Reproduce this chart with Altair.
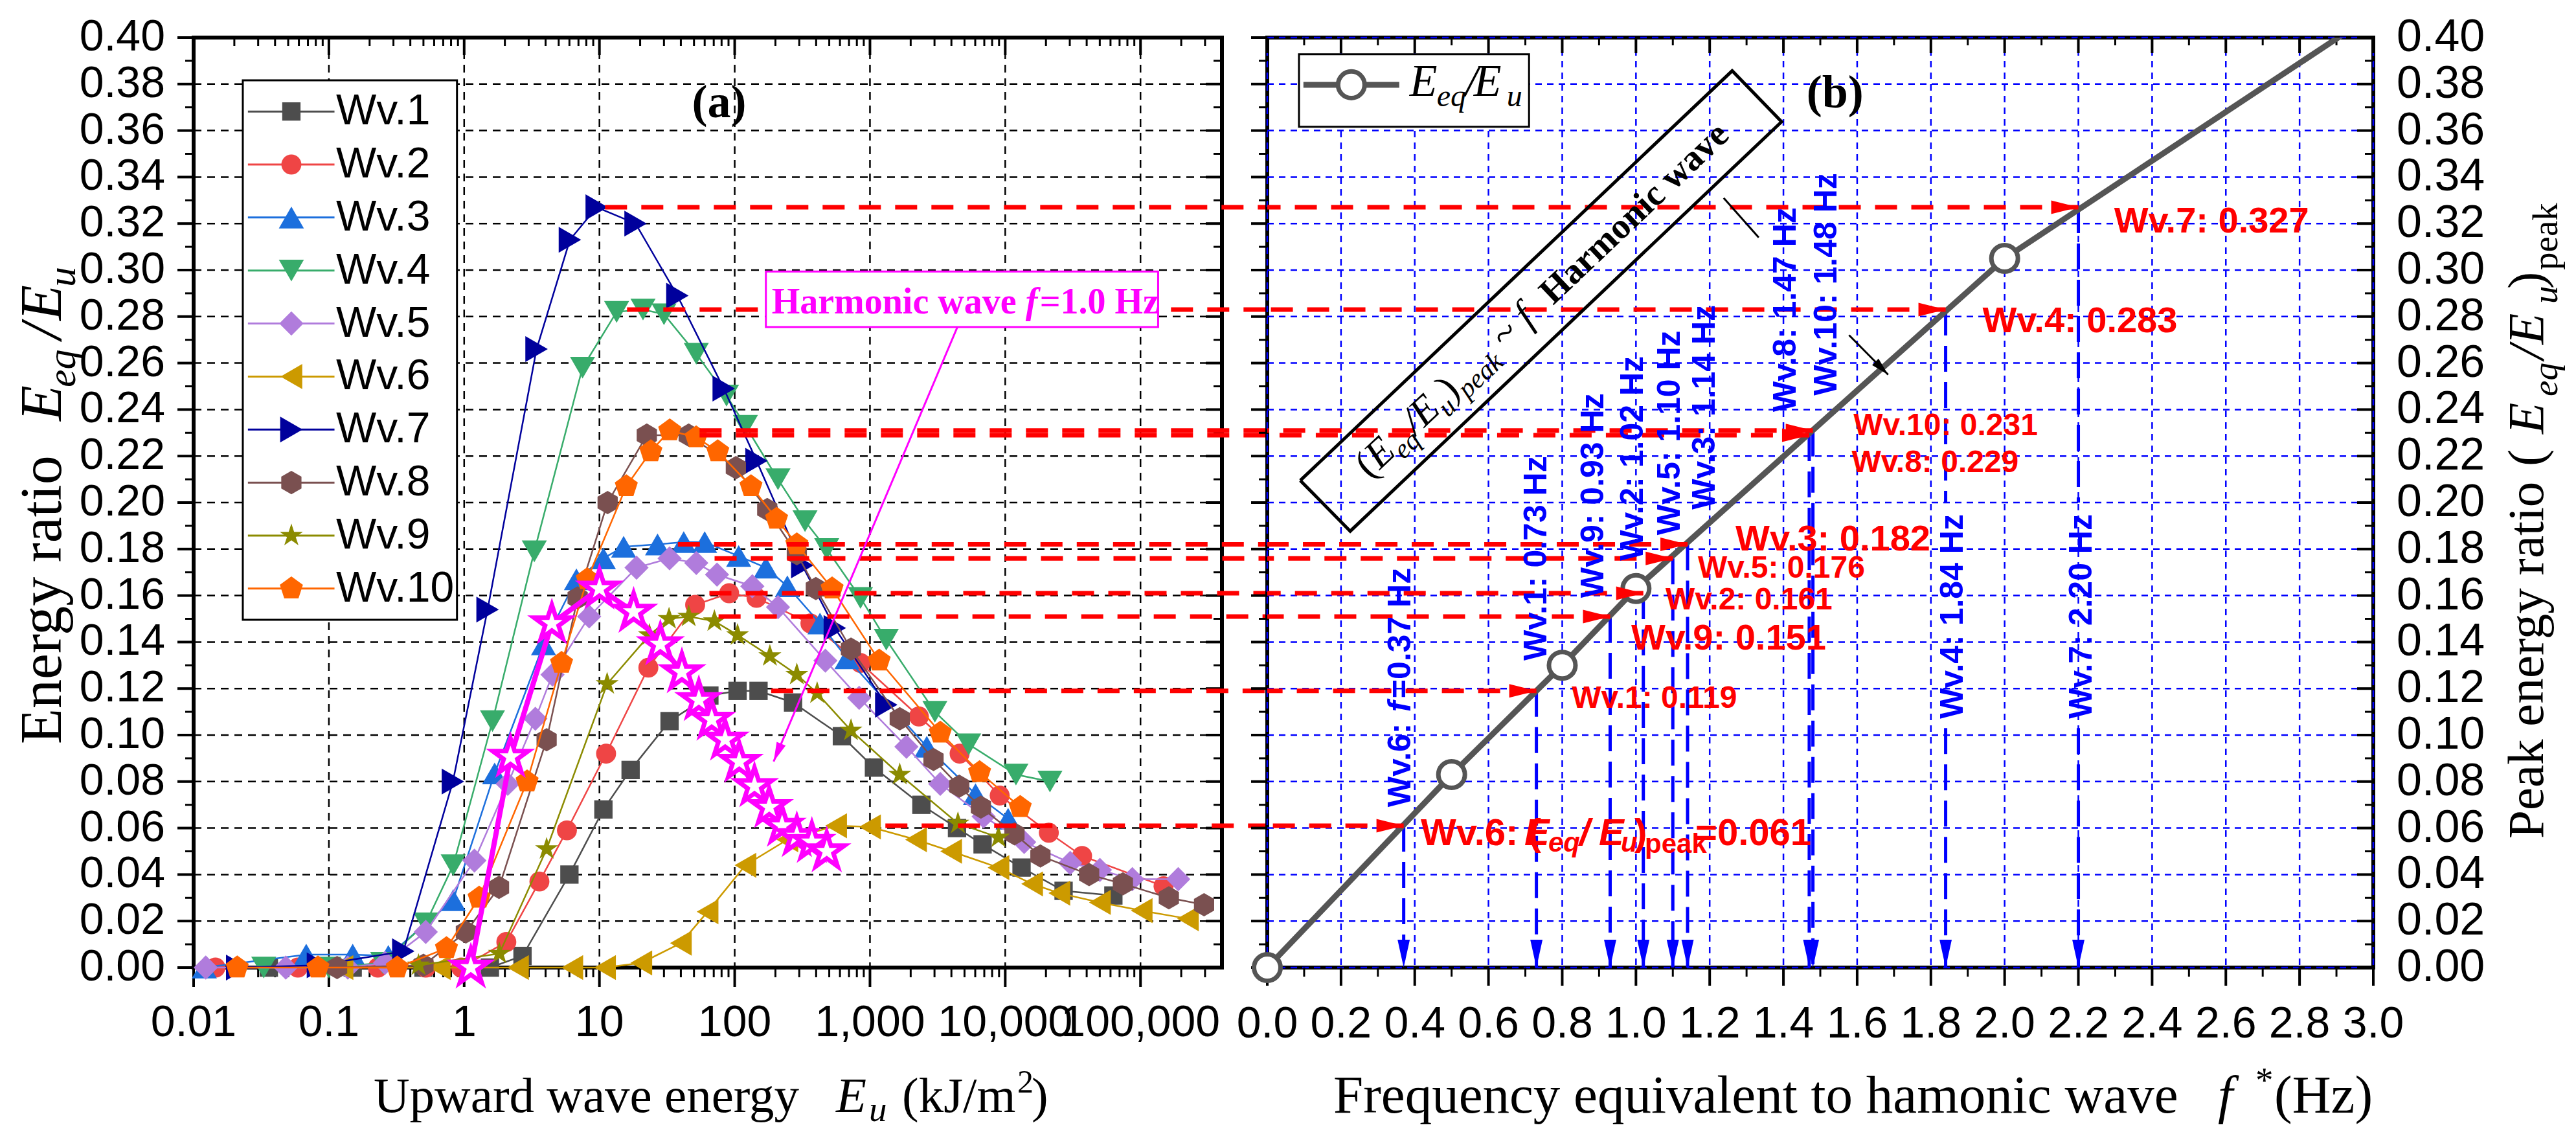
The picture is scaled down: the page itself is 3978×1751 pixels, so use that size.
import altair as alt
import pandas as pd

# ---------------- data ----------------
E1 = [0.036, 0.15, 0.5, 1.55, 2.7, 6.0, 10.7, 17, 33, 65, 105, 150, 270, 620, 1070, 2400, 4400, 6800, 13200, 27000, 63000]
V1 = [0.0, 0.0, 0.0, 0.0, 0.005, 0.040, 0.068, 0.085, 0.106, 0.117, 0.119, 0.119, 0.114, 0.0995, 0.086, 0.070, 0.060, 0.053, 0.043, 0.033, 0.031]
E2 = [0.0145, 0.059, 0.23, 0.52, 0.95, 2.05, 3.6, 5.75, 11.2, 23, 51, 91, 145, 363, 850, 2300, 4600, 9100, 21000, 37000, 148000]
V2 = [0.0, 0.0, 0.0, 0.0, 0.0, 0.011, 0.037, 0.059, 0.092, 0.129, 0.156, 0.161, 0.159, 0.148, 0.131, 0.108, 0.092, 0.074, 0.058, 0.048, 0.035]
E3 = [0.012, 0.068, 0.15, 0.275, 0.83, 1.68, 3.86, 6.76, 10.7, 15.1, 26.9, 42, 60, 107, 170, 245, 427, 676, 2630, 6030, 10500]
V3 = [0.0, 0.0056, 0.0056, 0.005, 0.029, 0.0835, 0.139, 0.167, 0.176, 0.181, 0.182, 0.183, 0.183, 0.177, 0.172, 0.164, 0.148, 0.133, 0.095, 0.0746, 0.064]
E4 = [0.033, 0.1, 0.25, 0.52, 0.83, 1.62, 3.3, 7.5, 13.4, 21, 30, 52, 87, 120, 209, 331, 479, 851, 1320, 3020, 5370, 12000, 21400]
V4 = [0.0, 0.0, 0.002, 0.019, 0.044, 0.106, 0.179, 0.258, 0.282, 0.283, 0.281, 0.264, 0.246, 0.233, 0.210, 0.192, 0.180, 0.159, 0.141, 0.110, 0.096, 0.083, 0.080]
E5 = [0.0123, 0.048, 0.138, 0.26, 0.52, 1.19, 2.1, 3.36, 4.5, 8.4, 18.8, 33, 52, 74, 135, 209, 468, 832, 1860, 3310, 6920, 13800, 30200, 50100, 87000, 190000]
V5 = [0.0, 0.0, 0.0, 0.002, 0.0153, 0.046, 0.079, 0.107, 0.126, 0.151, 0.172, 0.176, 0.174, 0.169, 0.164, 0.155, 0.132, 0.116, 0.095, 0.079, 0.065, 0.054, 0.045, 0.042, 0.038, 0.038]
E6 = [0.126, 0.66, 2.5, 6.3, 11, 20.4, 40, 63, 120, 245, 562, 1000, 2190, 3980, 8910, 15800, 25100, 50100, 102000, 224000]
V6 = [0.0, 0.0, 0.0, 0.0, 0.0, 0.002, 0.0105, 0.024, 0.044, 0.055, 0.061, 0.0605, 0.055, 0.050, 0.043, 0.036, 0.032, 0.028, 0.0245, 0.021]
E7 = [0.021, 0.083, 0.355, 0.826, 1.49, 3.43, 6.05, 9.55, 18.5, 37.7, 83, 145, 316, 550, 1320]
V7 = [0.0, 0.001, 0.007, 0.080, 0.154, 0.266, 0.313, 0.327, 0.320, 0.289, 0.249, 0.218, 0.173, 0.146, 0.113]
E8 = [0.115, 0.5, 1.03, 1.81, 4.07, 6.9, 11.5, 22.4, 45.7, 102, 174, 288, 398, 724, 1660, 2950, 4570, 6610, 11700, 18200, 41700, 74100, 162000, 295000]
V8 = [0.0, 0.001, 0.0153, 0.0345, 0.098, 0.159, 0.200, 0.229, 0.229, 0.215, 0.197, 0.178, 0.163, 0.137, 0.107, 0.0895, 0.078, 0.069, 0.0575, 0.048, 0.040, 0.036, 0.030, 0.027]
E9 = [0.46, 1.82, 4.07, 11.4, 23.4, 32.7, 45.7, 70.8, 105, 182, 288, 407, 724, 1660, 4470, 8910]
V9 = [0.001, 0.006, 0.051, 0.122, 0.143, 0.150, 0.151, 0.149, 0.143, 0.134, 0.126, 0.118, 0.102, 0.083, 0.062, 0.056]
E10 = [0.021, 0.083, 0.32, 0.74, 1.29, 2.92, 5.25, 8.13, 15.8, 24, 33.1, 51.9, 75, 132, 204, 288, 525, 1170, 3310, 6460, 12900]
V10 = [0.0, 0.0, 0.0, 0.0083, 0.030, 0.080, 0.131, 0.167, 0.207, 0.222, 0.231, 0.228, 0.222, 0.207, 0.193, 0.182, 0.163, 0.132, 0.101, 0.084, 0.069]
EH = [1.12, 2.2, 4.45, 10, 17.9, 28.2, 40.7, 54.3, 67.6, 85, 108, 140, 180, 224, 288, 372, 479]
VH = [0.0, 0.0906, 0.148, 0.163, 0.153, 0.139, 0.127, 0.115, 0.1066, 0.098, 0.0885, 0.078, 0.069, 0.061, 0.0565, 0.054, 0.050]

PEAK_NAMES = ["Wv.7", "Wv.4", "Wv.10", "Wv.8", "Wv.3", "Wv.5", "Wv.2", "Wv.9", "Wv.1", "Wv.6"]
PEAK_V = [0.327, 0.283, 0.231, 0.229, 0.182, 0.176, 0.161, 0.151, 0.119, 0.061]
PEAK_E = [11, 16, 55, 55, 38, 71, 65, 76, 186, 1300]
PEAK_F = [2.20, 1.84, 1.48, 1.47, 1.14, 1.10, 1.02, 0.93, 0.73, 0.37]

LINE_F = [0.0, 0.5, 0.8, 1.0, 2.0, 3.0]
LINE_V = [0.0, 0.083, 0.130, 0.163, 0.305, 0.410]

X_TICK_VALUES = [0.01, 0.1, 1, 10, 100, 1000, 10000, 100000]
X_TICK_LABELS = ["0.01", "0.1", "1", "10", "100", "1,000", "10,000", "100,000"]

# ---------------- styling ----------------
SANS_N = "'Liberation Sans Narrow', 'Arial Narrow', 'Liberation Sans', Arial, sans-serif"
SANS = "'Liberation Sans', Arial, sans-serif"
SERIF = "'Liberation Serif', 'Times New Roman', serif"
LW, LH = 1588, 1436
RW, RH = 1708, 1436
GAP = 70
RED, BLUE, MAG, GRAY = "#ff0000", "#0000ff", "#ff00ff", "#555555"

STAR = "M0,-1L0.2245,-0.309L0.9511,-0.309L0.3633,0.118L0.5878,0.809L0,0.382L-0.5878,0.809L-0.3633,0.118L-0.9511,-0.309L-0.2245,-0.309Z"
HEX = "M0,-1L0.866,-0.5L0.866,0.5L0,1L-0.866,0.5L-0.866,-0.5Z"
PENT = "M0,-1L0.9511,-0.309L0.5878,0.809L-0.5878,0.809L-0.9511,-0.309Z"
ARR_R = "M-1,-0.5L1,0L-1,0.5Z"
ARR_D = "M-0.44,-1L0.44,-1L0,1Z"
ARR_D2 = "M-0.5,-1L0.5,-1L0,1Z"

SERIES = [
    ("Wv.1", E1, V1, "#4d4d4d", "square", 800),
    ("Wv.2", E2, V2, "#ef4545", "circle", 950),
    ("Wv.3", E3, V3, "#1c6fdd", "triangle-up", 1500),
    ("Wv.4", E4, V4, "#38ac6b", "triangle-down", 1500),
    ("Wv.5", E5, V5, "#b07cdc", "diamond", 1400),
    ("Wv.6", E6, V6, "#cc9a00", "triangle-left", 1500),
    ("Wv.7", E7, V7, "#00009c", "triangle-right", 1600),
    ("Wv.8", E8, V8, "#7a5050", HEX, 1300),
    ("Wv.9", E9, V9, "#8b8b00", STAR, 1400),
    ("Wv.10", E10, V10, "#ff6600", PENT, 1400),
]

XL = alt.Scale(type="log", domain=[0.01, 400000], nice=False)
XR = alt.Scale(domain=[0, 3], nice=False, zero=False)
YS = alt.Scale(domain=[0, 0.4], nice=False, zero=False)

YMAJOR = [round(0.02 * i, 2) for i in range(21)]
YMINOR = [round(0.01 + 0.02 * i, 2) for i in range(20)]
XMINOR = [k * 10.0 ** d for d in range(-2, 6) for k in range(2, 10) if k * 10.0 ** d < 400000]
RXMAJOR = [round(0.2 * i, 1) for i in range(16)]
RXMINOR = [round(0.1 + 0.2 * i, 1) for i in range(15)]

ONE = pd.DataFrame({"k": [0]})


def mk_text(text, size, font, style, weight, color, angle, dx, dy, align, baseline):
    kw = dict(text=text, fontSize=size, font=font, fontStyle=style, fontWeight=weight,
              color=color, align=align, baseline=baseline, dx=dx, dy=dy)
    if angle:
        kw["angle"] = angle
    return kw


def ptxt(text, x, y, size, font=SERIF, style="normal", weight="normal", color="black",
         angle=0, dx=0, dy=0, align="left", baseline="alphabetic"):
    return alt.Chart(ONE).mark_text(**mk_text(text, size, font, style, weight, color, angle, dx, dy, align, baseline)).encode(
        x=alt.value(x), y=alt.value(y))


def dtxt(text, xv, yv, xs, size, font=SERIF, style="normal", weight="normal", color="black",
         angle=0, dx=0, dy=0, align="left", baseline="alphabetic"):
    df = pd.DataFrame({"x": [xv], "y": [yv]})
    return alt.Chart(df).mark_text(**mk_text(text, size, font, style, weight, color, angle, dx, dy, align, baseline)).encode(
        x=alt.X("x:Q", scale=xs, axis=None), y=alt.Y("y:Q", scale=YS, axis=None))


def vrules(values, xs, y1, y2, w, color="black", dash=None):
    kw = dict(color=color, strokeWidth=w)
    if dash:
        kw["strokeDash"] = dash
    return alt.Chart(pd.DataFrame({"t": values})).mark_rule(**kw).encode(
        x=alt.X("t:Q", scale=xs, axis=None), y=alt.value(y1), y2=alt.value(y2))


def hrules(values, x1, x2, w, color="black", dash=None):
    kw = dict(color=color, strokeWidth=w)
    if dash:
        kw["strokeDash"] = dash
    return alt.Chart(pd.DataFrame({"t": values})).mark_rule(**kw).encode(
        y=alt.Y("t:Q", scale=YS, axis=None), x=alt.value(x1), x2=alt.value(x2))


def xlabels(values, labels, xs, y, size):
    df = pd.DataFrame({"t": values, "lab": labels})
    return alt.Chart(df).mark_text(font=SANS_N, fontSize=size, color="black", align="center",
                                   baseline="middle").encode(
        x=alt.X("t:Q", scale=xs, axis=None), y=alt.value(y), text="lab:N")


def ylabels(values, labels, x, align, size):
    df = pd.DataFrame({"t": values, "lab": labels})
    return alt.Chart(df).mark_text(font=SANS_N, fontSize=size, color="black", align=align,
                                   baseline="middle").encode(
        y=alt.Y("t:Q", scale=YS, axis=None), x=alt.value(x), text="lab:N")


def seg(xs, x1, y1, x2, y2, color, w, dash=None):
    df = pd.DataFrame({"x1": [x1], "x2": [x2], "y1": [y1], "y2": [y2]})
    kw = dict(color=color, strokeWidth=w)
    if dash:
        kw["strokeDash"] = dash
    return alt.Chart(df).mark_rule(**kw).encode(
        x=alt.X("x1:Q", scale=xs, axis=None), x2="x2:Q",
        y=alt.Y("y1:Q", scale=YS, axis=None), y2="y2:Q")


def box(xs, x1, x2, y1, y2, stroke, w):
    df = pd.DataFrame({"x1": [x1], "x2": [x2], "y1": [y1], "y2": [y2]})
    return alt.Chart(df).mark_rect(fill="white", stroke=stroke, strokeWidth=w).encode(
        x=alt.X("x1:Q", scale=xs, axis=None), x2="x2:Q",
        y=alt.Y("y1:Q", scale=YS, axis=None), y2="y2:Q")


def pts(df, xs, xf, yf, **mark):
    return alt.Chart(df).mark_point(opacity=1, **mark).encode(
        x=alt.X(xf + ":Q", scale=xs, axis=None), y=alt.Y(yf + ":Q", scale=YS, axis=None))


def series_mark(shape, color, size):
    return dict(shape=shape, filled=True, color=color, size=size)


YLABELS = ["%.2f" % v for v in YMAJOR]
RXLABELS = ["%.1f" % v for v in RXMAJOR]

# =============== LEFT PANEL ===============
L = [vrules(X_TICK_VALUES, XL, 0, LH, 2.5, "black", [12, 9]),
     hrules(YMAJOR, 0, LW, 2.5, "black", [12, 9]),
     vrules(X_TICK_VALUES, XL, LH, LH + 30, 4), vrules(XMINOR, XL, LH, LH + 15, 3),
     vrules(X_TICK_VALUES, XL, 0, 27, 4), vrules(XMINOR, XL, 0, 13, 3),
     hrules(YMAJOR, -25, 0, 4), hrules(YMINOR, -13, 0, 3),
     hrules(YMAJOR, LW - 25, LW, 4), hrules(YMINOR, LW - 13, LW, 3),
     xlabels(X_TICK_VALUES, X_TICK_LABELS, XL, LH + 86, 68),
     ylabels(YMAJOR, YLABELS, -44, "right", 68)]

for name, E, V, col, shp, sz in SERIES:
    df = pd.DataFrame({"E": E, "v": V})
    L.append(alt.Chart(df).mark_line(color=col, strokeWidth=2.5).encode(
        x=alt.X("E:Q", scale=XL, axis=None), y=alt.Y("v:Q", scale=YS, axis=None)))
    L.append(pts(df, XL, "E", "v", **series_mark(shp, col, sz)))

dfh = pd.DataFrame({"E": EH, "v": VH})
L.append(alt.Chart(dfh).mark_line(color=MAG, strokeWidth=8).encode(
    x=alt.X("E:Q", scale=XL, axis=None), y=alt.Y("v:Q", scale=YS, axis=None)))
L.append(pts(dfh, XL, "E", "v", shape=STAR, filled=True, fill="white", stroke=MAG, strokeWidth=7, size=3300))

dfp = pd.DataFrame({"name": PEAK_NAMES, "v": PEAK_V, "E": PEAK_E, "f": PEAK_F})
L.append(alt.Chart(dfp).mark_rule(color=RED, strokeWidth=7, strokeDash=[34, 22]).encode(
    x=alt.X("E:Q", scale=XL, axis=None), x2=alt.value(LW + GAP), y=alt.Y("v:Q", scale=YS, axis=None)))

# legend (left)
L.append(box(XL, 0.0231, 0.885, 0.1496, 0.3816, "black", 3))
for i, (name, E, V, col, shp, sz) in enumerate(SERIES):
    yy = 0.3682 - i * 0.0228
    L.append(seg(XL, 0.0252, yy, 0.110, yy, col, 3))
    L.append(pts(pd.DataFrame({"x": [0.0528], "y": [yy]}), XL, "x", "y", **series_mark(shp, col, sz)))
    L.append(dtxt(name, 0.113, yy, XL, 66, font=SANS_N, baseline="middle"))

# harmonic annotation
L.append(box(XL, 170, 135000, 0.2755, 0.2994, MAG, 3))
L.append(dtxt("Harmonic wave", 187.6, 0.2813, XL, 56, weight="bold", color=MAG))
L.append(dtxt("f", 187.6, 0.2813, XL, 56, weight="bold", style="italic", color=MAG, dx=392))
L.append(dtxt("=1.0 Hz", 187.6, 0.2813, XL, 56, weight="bold", color=MAG, dx=414))
L.append(seg(XL, 4430, 0.2755, 194, 0.0886, MAG, 3))
L.append(pts(pd.DataFrame({"x": [194], "y": [0.0886]}), XL, "x", "y", shape=ARR_D2, filled=True,
             color=MAG, size=900, angle=22.9, xOffset=5.8, yOffset=-13.8))
L.append(dtxt("(a)", 76.7, 0.372, XL, 72, weight="bold", align="center", baseline="middle"))

# left axis titles
yt = [("Energy ratio", 0, 0, 90, "normal"), ("E", 499, 0, 90, "italic"), ("eq", 551, 22, 62, "italic"),
      ("/", 625, 0, 90, "italic"), ("E", 654, 0, 90, "italic"), ("u", 706, 22, 62, "italic")]
for t, dx, dy, s, st in yt:
    L.append(ptxt(t, -205, 1091, s, style=st, angle=270, dx=dx, dy=dy))
xt = [("Upward wave energy", 278, 0, 77, "normal"), ("E", 992, 0, 77, "italic"), ("u", 1043, 14, 55, "italic"),
      ("(kJ/m", 1094, 0, 77, "normal"), ("2", 1272, -30, 50, "normal"), (")", 1294, 0, 77, "normal")]
for t, x, dy, s, st in xt:
    L.append(ptxt(t, x, 1659, s, style=st, dy=dy))

left = alt.layer(*L).properties(width=LW, height=LH)

# =============== RIGHT PANEL ===============
R = [vrules(RXMAJOR, XR, 0, RH, 2.5, BLUE, [10, 8]),
     hrules(YMAJOR, 0, RW, 2.5, BLUE, [10, 8]),
     vrules(RXMAJOR, XR, RH, RH + 28, 4), vrules(RXMINOR, XR, RH, RH + 14, 3),
     vrules(RXMAJOR, XR, 0, 24, 4), vrules(RXMINOR, XR, 0, 12, 3),
     hrules(YMAJOR, -25, 0, 4), hrules(YMINOR, -13, 0, 3),
     hrules(YMAJOR, RW - 25, RW, 4), hrules(YMINOR, RW - 13, RW, 3),
     xlabels(RXMAJOR, RXLABELS, XR, RH + 88, 68),
     ylabels(YMAJOR, YLABELS, RW + 36, "left", 70)]

# blue drop lines (Wv.4 and Wv.7 are broken where their labels sit)
BREAK = {"Wv.4": (0.200, 0.103), "Wv.7": (0.200, 0.103)}
for n, v, f in zip(PEAK_NAMES, PEAK_V, PEAK_F):
    if n in BREAK:
        hi, lo = BREAK[n]
        R.append(seg(XR, f, v, f, hi, BLUE, 5, [40, 16]))
        R.append(seg(XR, f, lo, f, 0.0, BLUE, 5, [40, 16]))
    else:
        R.append(seg(XR, f, v, f, 0.0, BLUE, 5, [40, 16]))
dfz = pd.DataFrame({"f": PEAK_F, "z": [0.0] * len(PEAK_F)})
R.append(pts(dfz, XR, "f", "z", shape=ARR_D, filled=True, color=BLUE, size=1850, yOffset=-21.5))

# E_eq/E_u curve
dfl = pd.DataFrame({"f": LINE_F, "v": LINE_V})
R.append(alt.Chart(dfl).mark_line(color=GRAY, strokeWidth=9, clip=True).encode(
    x=alt.X("f:Q", scale=XR, axis=None), y=alt.Y("v:Q", scale=YS, axis=None)))
R.append(alt.Chart(dfl).transform_filter("datum.f <= 2").mark_point(
    shape="circle", filled=True, fill="white", stroke=GRAY, strokeWidth=7, size=1681, opacity=1).encode(
    x=alt.X("f:Q", scale=XR, axis=None), y=alt.Y("v:Q", scale=YS, axis=None)))

# red horizontal arrows (right part)
R.append(alt.Chart(dfp).mark_rule(color=RED, strokeWidth=7, strokeDash=[34, 22]).encode(
    x=alt.X("f:Q", scale=XR, axis=None), x2=alt.value(0), y=alt.Y("v:Q", scale=YS, axis=None)))
R.append(pts(dfp, XR, "f", "v", shape=ARR_R, filled=True, color=RED, size=1764, xOffset=-21))

# rotated box
BOX_F = [0.0896, 1.261, 1.395, 0.225, 0.0896]
BOX_V = [0.2095, 0.3857, 0.3638, 0.1877, 0.2095]
R.append(alt.Chart(pd.DataFrame({"f": BOX_F, "v": BOX_V, "i": list(range(5))})).mark_line(
    color="black", strokeWidth=5).encode(
    x=alt.X("f:Q", scale=XR, axis=None), y=alt.Y("v:Q", scale=YS, axis=None), order="i:O"))
bt = [("(", 0, 0, 62, "normal", "normal"), ("E", 20.6, 0, 62, "italic", "normal"),
      ("eq", 58.5, 14, 42, "italic", "normal"), ("/", 98.1, 0, 62, "italic", "normal"),
      ("E", 115.3, 0, 62, "italic", "normal"), ("u", 153.2, 14, 42, "italic", "normal"),
      (")", 174.2, 0, 62, "normal", "normal"), ("peak", 194.8, 14, 42, "italic", "normal"),
      ("~", 289.6, 0, 62, "normal", "normal"), ("f", 338.6, 0, 62, "italic", "normal"),
      ("Harmonic wave", 390, 0, 56, "normal", "bold")]
for t, dx, dy, s, st, wt in bt:
    R.append(dtxt(t, 0.2784, 0.2099, XR, s, style=st, weight=wt, angle=316.5, dx=dx, dy=dy))

# leader line
R.append(seg(XR, 1.238, 0.331, 1.333, 0.314, "black", 3))
R.append(seg(XR, 1.578, 0.272, 1.684, 0.255, "black", 3))
R.append(pts(pd.DataFrame({"x": [1.684], "y": [0.255]}), XR, "x", "y", shape=ARR_D2, filled=True,
             color="black", size=784, angle=315, xOffset=-9.9, yOffset=-9.9))

# blue labels
BL = [("Wv.1: 0.73 Hz", 0.731, 0.132), ("Wv.9: 0.93 Hz", 0.885, 0.159), ("Wv.2: 1.02 Hz", 0.993, 0.175),
      ("Wv.5: 1.10 Hz", 1.093, 0.186), ("Wv.3: 1.14 Hz", 1.188, 0.197), ("Wv.8: 1.47 Hz", 1.407, 0.239),
      ("Wv.10: 1.48 Hz", 1.518, 0.246), ("Wv.4: 1.84 Hz", 1.86, 0.107), ("Wv.7: 2.20 Hz", 2.21, 0.107)]
for t, f, v in BL:
    R.append(dtxt(t, f, v, XR, 50, font=SANS, weight="bold", color=BLUE, angle=270, baseline="middle"))
for t, dx, st in [("Wv.6: ", 0, "normal"), ("f", 147, "italic"), ("=0.37 Hz", 168, "normal")]:
    R.append(dtxt(t, 0.362, 0.069, XR, 50, font=SANS, weight="bold", style=st, color=BLUE, angle=270,
                  baseline="middle", dx=dx))

# red labels
RL = [("Wv.7: 0.327", 2.297, 0.321, 56), ("Wv.4: 0.283", 1.94, 0.278, 56), ("Wv.10: 0.231", 1.59, 0.233, 48),
      ("Wv.8: 0.229", 1.585, 0.217, 48), ("Wv.3: 0.182", 1.27, 0.184, 56), ("Wv.5: 0.176", 1.168, 0.1716, 48),
      ("Wv.2: 0.161", 1.08, 0.158, 48), ("Wv.9: 0.151", 0.987, 0.1415, 56), ("Wv.1: 0.119", 0.826, 0.1156, 48)]
for t, f, v, s in RL:
    R.append(dtxt(t, f, v, XR, s, font=SANS_N, weight="bold", color=RED, baseline="middle"))
r6 = [("Wv.6: (", 0, 0, 58, "normal"), ("E", 160, 0, 58, "italic"), ("eq", 197, 14, 42, "italic"),
      ("/", 245, 0, 58, "italic"), ("E", 275, 0, 58, "italic"), ("u", 309, 14, 42, "italic"),
      (")", 330, 0, 58, "normal"), ("peak", 346, 16, 42, "normal"), ("=0.061", 424, 0, 58, "normal")]
for t, dx, dy, s, st in r6:
    R.append(dtxt(t, 0.4163, 0.0574, XR, s, font=SANS_N, weight="bold", style=st, color=RED,
                  baseline="middle", dx=dx, dy=dy))

# legend (right)
R.append(box(XR, 0.086, 0.71, 0.3616, 0.3928, "black", 3))
R.append(seg(XR, 0.098, 0.3797, 0.358, 0.3797, GRAY, 9))
R.append(pts(pd.DataFrame({"x": [0.228], "y": [0.3797]}), XR, "x", "y", shape="circle", filled=True,
             fill="white", stroke=GRAY, strokeWidth=7, size=1681))
for t, dx, dy, s in [("E", 0, 0, 70), ("eq", 42, 16, 48), ("/", 86, 0, 70), ("E", 99, 0, 70), ("u", 150, 16, 48)]:
    R.append(dtxt(t, 0.386, 0.3749, XR, s, style="italic", dx=dx, dy=dy))
R.append(dtxt("(b)", 1.54, 0.376, XR, 72, weight="bold", align="center", baseline="middle"))

# right axis titles
rt = [("Frequency equivalent to hamonic wave", 102, 0, 83, "normal"), ("f", 1468, 0, 83, "italic"),
      ("*", 1526, -32, 55, "normal"), ("(Hz)", 1555, 0, 83, "normal")]
for t, x, dy, s, st in rt:
    R.append(ptxt(t, x, 1660, s, style=st, dy=dy))
ryt = [("Peak energy ratio", 0, 0, 79, "normal"), ("(", 575, 0, 79, "normal"), ("E", 625, 0, 79, "italic"),
       ("eq", 683, 22, 55, "italic"), ("/", 740, 0, 79, "italic"), ("E", 763, 0, 79, "italic"),
       ("u", 826, 22, 55, "italic"), (")", 849, 0, 79, "normal"), ("peak", 878, 22, 55, "normal")]
for t, dx, dy, s, st in ryt:
    R.append(ptxt(t, 1970, 1237, s, style=st, angle=270, dx=dx, dy=dy))

right = alt.layer(*R).properties(width=RW, height=RH)

chart = alt.hconcat(left, right, spacing=GAP, bounds="flush").properties(
    padding={"left": 10, "top": 12, "right": 5, "bottom": 5}, background="white"
).configure_view(stroke="black", strokeWidth=6)

chart.save("out.html", embed_options={"renderer": "svg", "actions": False})
